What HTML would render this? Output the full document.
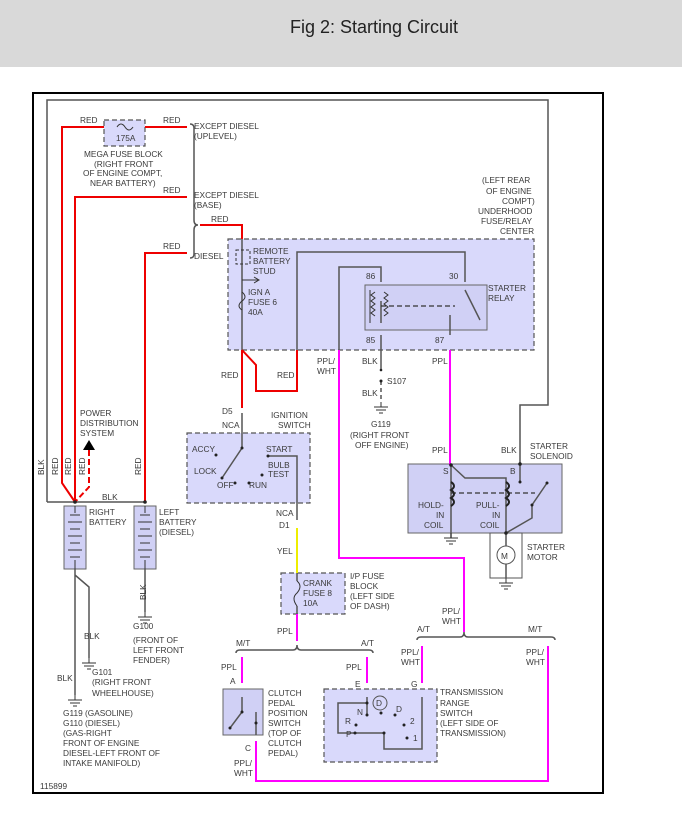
<!DOCTYPE html>
<html><head><meta charset="utf-8"><style>
html,body{margin:0;padding:0;background:#fff;}
svg{display:block;}
text{font-family:"Liberation Sans",sans-serif;font-size:8.3px;fill:#3a3a3a;}
.t{font-size:18px;fill:#222;}
</style></head><body>
<svg width="682" height="819" viewBox="0 0 682 819" xmlns="http://www.w3.org/2000/svg">
<rect x="0" y="0" width="682" height="67" fill="#d9d9d9"/>
<text class="t" x="374" y="33" text-anchor="middle">Fig 2: Starting Circuit</text>
<rect x="33" y="93" width="570" height="700" fill="#fff" stroke="#000" stroke-width="2"/>

<g fill="#d9d9fb" stroke="#555" stroke-width="1.2" stroke-dasharray="5,3">
<rect x="104" y="120" width="41" height="26"/>
<rect x="228" y="239" width="306" height="111"/>
<rect x="187" y="433" width="123" height="70"/>
<rect x="281" y="573" width="64" height="41"/>
<rect x="324" y="689" width="113" height="73"/>
</g>
<g fill="#d0d0f5" stroke="#666" stroke-width="1">
<rect x="365" y="285" width="122" height="45"/>
<rect x="408" y="464" width="154" height="69"/>
<rect x="223" y="689" width="40" height="46"/>
<rect x="64" y="506" width="22" height="63"/>
<rect x="134" y="506" width="22" height="63"/>
</g>
<rect x="490" y="533" width="32" height="45" fill="none" stroke="#555"/>

<g fill="none" stroke="#555" stroke-width="1.5">
<path d="M47 502 V100 H548 V405 H520 V464"/>
<path d="M47 502 H145"/>
<path d="M190 124 q4 0 4 4 V220 q0 5 4 5 q-4 0 -4 5 V254 q0 4 -4 4"/>
<path d="M242 239 V350"/>
<path d="M297 350 V252 H465 V282"/>
<path d="M339 350 V267 H381 V282"/>
<path d="M381 335 V370"/>
<path d="M381 381 V402" stroke-dasharray="4,3"/>
<path d="M450 335 V330"/>
<path d="M268 456 H297 V520"/>
<path d="M297 614 V606 M297 573 V581"/>
<path d="M236 653 q0 -3 4 -3 H293 q4 0 4 -5 q0 5 4 5 H369 q4 0 4 3"/>
<path d="M417 640 q0 -3 4 -3 H460 q4 0 4 -5 q0 5 4 5 H551 q4 0 4 3"/>
<path d="M75 569 V695 M75 575 L89 587 V658 M145 569 V612"/>
<path d="M451 465 L465 478 H506 V533"/>
<path d="M451 465 V538"/>
<path d="M506 533 L532 518 V505 L547 483"/>
<path d="M520 464 V482"/>
<path d="M506 533 V546 M506 564 V578"/>
<path d="M381 301 V323 M465 290 L480 320 M450 315 V330"/>
<path d="M242 413 V448 L222 478"/>
<path d="M242 697 V712 L230 728 M256 712 V735"/>
<path d="M367 697 V715 M367 703 H338 V733 H376 M376 733 H384 V749 H422 V697"/>
</g>
<path d="M381 306 H455 M451 493 H535" stroke="#333" stroke-width="1.2" stroke-dasharray="5,3"/>
<path d="M370 290 V323 M375 292 l-4 3 4 3 -4 3 4 3 -4 3 4 3 -4 3 4 3 M384 292 l4 3 -4 3 4 3 -4 3 4 3 -4 3 4 3 -4 3" stroke="#333" fill="none"/>
<path d="M451 482 q6 4 0 8 q6 4 0 8 q6 4 0 8 M506 482 q6 4 0 8 q6 4 0 8 q6 4 0 8" stroke="#222" stroke-width="2" fill="none"/>
<circle cx="506" cy="555" r="9" fill="#fff" stroke="#555"/>
<text x="501" y="559">M</text>
<circle cx="380" cy="703" r="7" fill="none" stroke="#555"/>
<text x="376" y="706">D</text>

<g fill="none" stroke="#e00" stroke-width="2">
<path d="M187 127 H145 M104 127 H62 V483 L75 502"/>
<path d="M187 197 H75 V502"/>
<path d="M187 253 H145 V502"/>
<path d="M200 225 H242 V239"/>
<path d="M242 350 V408"/>
<path d="M242 350 L256 365 V391 H297 V350"/>
<path d="M89 450 V487 L75 502" stroke-dasharray="6,3"/>
</g>
<path d="M83 450 L89 440 L95 450Z" fill="#000"/>
<path d="M297 528 V573" stroke="#ee0" stroke-width="2"/>
<g fill="none" stroke="#f0f" stroke-width="2">
<path d="M339 350 V558 H464 V632"/>
<path d="M450 350 V465"/>
<path d="M297 614 V641"/>
<path d="M242 657 V683 M367 657 V683 M422 646 V683"/>
<path d="M256 741 V781 H548 V646"/>
</g>

<g stroke="#333" stroke-width="1">
<path d="M374 407 h14 M376 410 h10 M379 413 h4"/>
<path d="M68 700 h14 M70 703 h10 M73 706 h4"/>
<path d="M82 663 h14 M84 666 h10 M87 669 h4"/>
<path d="M138 617 h14 M140 620 h10 M143 623 h4"/>
<path d="M444 538 h14 M446 541 h10 M449 544 h4"/>
<path d="M499 583 h14 M501 586 h10 M504 589 h4"/>
<path d="M381 402 V407 M75 695 V700 M89 658 V663 M145 612 V617 M451 533 V538 M506 578 V583"/>
<path d="M70 515 h10 M68 522 h14 M70 529 h10 M68 536 h14 M70 543 h10 M68 550 h14 M70 557 h10 M75 506 V513 M75 560 V569"/>
<path d="M140 515 h10 M138 522 h14 M140 529 h10 M138 536 h14 M140 543 h10 M138 550 h14 M140 557 h10 M145 506 V513 M145 560 V569"/>
</g>
<g fill="none" stroke="#333">
<path d="M117 127 q4 -6 8 0 q4 6 8 0"/>
<path d="M242 292 q6 5 0 9 q-6 5 0 9"/>
<path d="M297 581 q6 5 0 12 q-6 5 0 13"/>
<path d="M236 250 h14 v14 h-14z" stroke-dasharray="3,2"/>
<path d="M242 280 H258 M254 277 L259 280 254 283"/>
</g>

<text x="80" y="123">RED</text><text x="163" y="123">RED</text>
<text x="116" y="141">175A</text>
<text x="84" y="157">MEGA FUSE BLOCK</text>
<text x="94" y="167">(RIGHT FRONT</text>
<text x="83" y="176">OF ENGINE COMPT,</text>
<text x="90" y="186">NEAR BATTERY)</text>
<text x="194" y="129">EXCEPT DIESEL</text><text x="194" y="139">(UPLEVEL)</text>
<text x="163" y="193">RED</text>
<text x="194" y="198">EXCEPT DIESEL</text><text x="194" y="208">(BASE)</text>
<text x="211" y="222">RED</text>
<text x="163" y="249">RED</text>
<text x="194" y="259">DIESEL</text>
<text x="253" y="254">REMOTE</text><text x="253" y="264">BATTERY</text><text x="253" y="274">STUD</text>
<text x="248" y="295">IGN A</text><text x="248" y="305">FUSE 6</text><text x="248" y="315">40A</text>
<text x="482" y="183">(LEFT REAR</text><text x="486" y="194">OF ENGINE</text>
<text x="502" y="204">COMPT)</text><text x="478" y="214">UNDERHOOD</text>
<text x="481" y="224">FUSE/RELAY</text><text x="500" y="234">CENTER</text>
<text x="366" y="279">86</text><text x="449" y="279">30</text>
<text x="488" y="291">STARTER</text><text x="488" y="301">RELAY</text>
<text x="366" y="343">85</text><text x="435" y="343">87</text>
<text x="221" y="378">RED</text><text x="277" y="378">RED</text>
<text x="317" y="364">PPL/</text><text x="317" y="374">WHT</text>
<text x="362" y="364">BLK</text><text x="432" y="364">PPL</text>
<text x="387" y="384">S107</text><text x="362" y="396">BLK</text>
<text x="371" y="427">G119</text>
<text x="350" y="438">(RIGHT FRONT</text><text x="355" y="448">OFF ENGINE)</text>
<text x="222" y="414">D5</text><text x="222" y="428">NCA</text>
<text x="271" y="418">IGNITION</text><text x="278" y="428">SWITCH</text>
<text x="192" y="452">ACCY</text><text x="266" y="452">START</text>
<text x="194" y="474">LOCK</text><text x="268" y="468">BULB</text><text x="268" y="477">TEST</text>
<text x="217" y="488">OFF</text><text x="249" y="488">RUN</text>
<text x="80" y="416">POWER</text><text x="80" y="426">DISTRIBUTION</text><text x="80" y="436">SYSTEM</text>
<text x="102" y="500">BLK</text>
<text x="89" y="515">RIGHT</text><text x="89" y="525">BATTERY</text>
<text x="159" y="515">LEFT</text><text x="159" y="525">BATTERY</text><text x="159" y="535">(DIESEL)</text>
<text x="133" y="629">G100</text><text x="133" y="643">(FRONT OF</text><text x="133" y="653">LEFT FRONT</text><text x="133" y="663">FENDER)</text>
<text x="84" y="639">BLK</text>
<text x="92" y="675">G101</text><text x="92" y="685">(RIGHT FRONT</text><text x="92" y="696">WHEELHOUSE)</text>
<text x="57" y="681">BLK</text>
<text x="63" y="716">G119 (GASOLINE)</text><text x="63" y="726">G110 (DIESEL)</text>
<text x="63" y="736">(GAS-RIGHT</text><text x="63" y="746">FRONT OF ENGINE</text>
<text x="63" y="756">DIESEL-LEFT FRONT OF</text><text x="63" y="766">INTAKE MANIFOLD)</text>
<text x="40" y="789">115899</text>
<g transform="rotate(-90)">
<text x="-475" y="44">BLK</text><text x="-475" y="58">RED</text><text x="-475" y="71">RED</text>
<text x="-475" y="85">RED</text><text x="-475" y="141">RED</text><text x="-600" y="146">BLK</text>
</g>
<text x="276" y="516">NCA</text><text x="279" y="528">D1</text>
<text x="277" y="554">YEL</text>
<text x="303" y="586">CRANK</text><text x="303" y="596">FUSE 8</text><text x="303" y="606">10A</text>
<text x="350" y="579">I/P FUSE</text><text x="350" y="589">BLOCK</text><text x="350" y="599">(LEFT SIDE</text><text x="350" y="609">OF DASH)</text>
<text x="277" y="634">PPL</text>
<text x="236" y="646">M/T</text><text x="361" y="646">A/T</text>
<text x="221" y="670">PPL</text><text x="346" y="670">PPL</text>
<text x="230" y="684">A</text><text x="355" y="687">E</text><text x="411" y="687">G</text>
<text x="268" y="696">CLUTCH</text><text x="268" y="706">PEDAL</text><text x="268" y="716">POSITION</text>
<text x="268" y="726">SWITCH</text><text x="268" y="736">(TOP OF</text><text x="268" y="746">CLUTCH</text><text x="268" y="756">PEDAL)</text>
<text x="245" y="751">C</text>
<text x="234" y="766">PPL/</text><text x="234" y="776">WHT</text>
<text x="440" y="695">TRANSMISSION</text><text x="440" y="706">RANGE</text><text x="440" y="716">SWITCH</text>
<text x="440" y="726">(LEFT SIDE OF</text><text x="440" y="736">TRANSMISSION)</text>
<text x="357" y="715">N</text><text x="345" y="724">R</text><text x="346" y="737">P</text>
<text x="396" y="712">D</text><text x="410" y="724">2</text><text x="413" y="741">1</text>
<text x="442" y="614">PPL/</text><text x="442" y="624">WHT</text>
<text x="417" y="632">A/T</text><text x="528" y="632">M/T</text>
<text x="401" y="655">PPL/</text><text x="401" y="665">WHT</text>
<text x="526" y="655">PPL/</text><text x="526" y="665">WHT</text>
<text x="432" y="453">PPL</text><text x="501" y="453">BLK</text>
<text x="530" y="449">STARTER</text><text x="530" y="459">SOLENOID</text>
<text x="443" y="474">S</text><text x="510" y="474">B</text>
<text x="418" y="508">HOLD-</text><text x="436" y="518">IN</text><text x="424" y="528">COIL</text>
<text x="476" y="508">PULL-</text><text x="492" y="518">IN</text><text x="480" y="528">COIL</text>
<text x="527" y="550">STARTER</text><text x="527" y="560">MOTOR</text>
<g fill="#222">
<circle cx="381" cy="381" r="1.5"/><circle cx="381" cy="370" r="1.3"/>
<circle cx="242" cy="448" r="1.5"/><circle cx="222" cy="478" r="1.5"/><circle cx="216" cy="455" r="1.5"/>
<circle cx="235" cy="483" r="1.5"/><circle cx="249" cy="483" r="1.5"/><circle cx="262" cy="475" r="1.5"/><circle cx="268" cy="456" r="1.5"/>
<circle cx="75" cy="502" r="1.8"/><circle cx="145" cy="502" r="1.8"/>
<circle cx="451" cy="465" r="1.8"/><circle cx="520" cy="464" r="1.8"/><circle cx="520" cy="482" r="1.5"/><circle cx="506" cy="533" r="1.8"/>
<circle cx="532" cy="505" r="1.5"/><circle cx="547" cy="483" r="1.5"/>
<circle cx="230" cy="728" r="1.5"/><circle cx="242" cy="712" r="1.5"/><circle cx="256" cy="723" r="1.5"/>
<circle cx="367" cy="703" r="1.5"/><circle cx="367" cy="715" r="1.5"/><circle cx="381" cy="713" r="1.5"/><circle cx="395" cy="715" r="1.5"/>
<circle cx="356" cy="725" r="1.5"/><circle cx="404" cy="725" r="1.5"/><circle cx="355" cy="733" r="1.5"/><circle cx="384" cy="733" r="1.5"/><circle cx="407" cy="738" r="1.5"/>
</g>
</svg>
</body></html>
